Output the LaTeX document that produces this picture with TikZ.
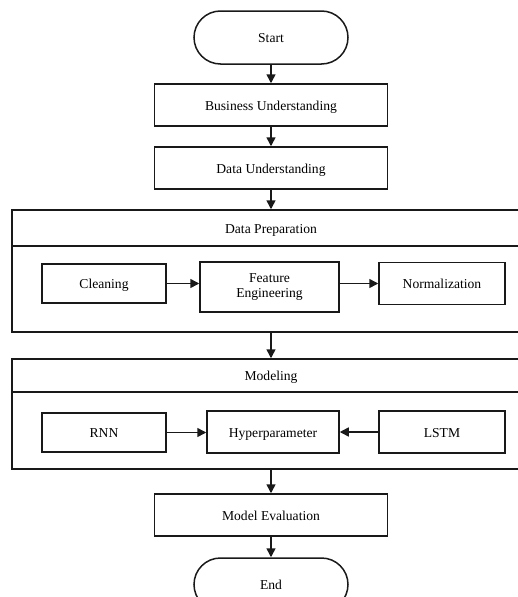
\documentclass[tikz,border=0pt]{standalone}
\usepackage{fontspec}
\setmainfont{Liberation Serif}
\usetikzlibrary{arrows.meta}
\tikzset{
  box/.style={draw=black!90, line width=1.5pt, rectangle, inner sep=0pt, align=center, font=\fontsize{13.6}{15.5}\selectfont},
  one/.style={text height=10pt, text depth=0pt},
  term/.style={box, one, rounded corners=26.5pt, minimum width=154pt, minimum height=53pt},
  wide/.style={box, one, minimum width=233pt, minimum height=42pt},
  outer/.style={box, minimum width=518pt},
  title/.style={inner sep=0pt, one, font=\fontsize{13.6}{15.5}\selectfont},
  arr/.style={line width=1.5pt, draw=black!90, -{Triangle[length=9pt,width=9pt]}}
}
\begin{document}
\begin{tikzpicture}[x=1pt,y=-1pt]
\useasboundingbox (0,0) rectangle (518,597);
\clip (0,0) rectangle (518,597);
\fill[white] (0,0) rectangle (518,597);
% terminals and main column
\node[term] (start) at (271,37.5) {Start};
\node[wide] (bu) at (271,105) {Business Understanding};
\node[wide] (du) at (271,168) {Data Understanding};
% Data Preparation group
\node[outer, minimum height=122pt] (dp) at (271,271) {};
\node[title] (dptitle) at (271,228) {Data Preparation};
\coordinate (dpdivl) at (12,246);
\draw[line width=1.5pt, black!90] (dpdivl) -- (dpdivl -| dp.east);
\node[box, one, minimum width=124pt, minimum height=39pt] (clean) at (104,283.5) {Cleaning};
\node[box, minimum width=139pt, minimum height=50pt] (fe) at (269.5,287) {Feature\\Engineering};
\node[box, one, minimum width=126pt, minimum height=42pt] (norm) at (442,283.5) {Normalization};
% Modeling group
\node[outer, minimum height=110pt] (mod) at (271,414) {};
\node[title] (modtitle) at (271,375.5) {Modeling};
\coordinate (moddivl) at (12,392);
\draw[line width=1.5pt, black!90] (moddivl) -- (moddivl -| mod.east);
\node[box, one, minimum width=124pt, minimum height=39pt] (rnn) at (104,432.5) {RNN};
\node[box, one, minimum width=132pt, minimum height=42pt] (hyp) at (273,432) {Hyperparameter};
\node[box, one, minimum width=126pt, minimum height=42pt] (lstm) at (442,432) {LSTM};
% bottom
\node[wide] (me) at (271,515) {Model Evaluation};
\node[term] (end) at (271,584.5) {End};
% connectors
\draw[arr] (start) -- (bu);
\draw[arr] (bu) -- (du);
\draw[arr] (du) -- (dp);
\draw[arr] (dp) -- (mod);
\draw[arr] (mod) -- (me);
\draw[arr] (me) -- (end);
\draw[arr] (clean.east) -- (clean.east -| fe.west);
\draw[arr] (norm.west -| fe.east) -- (norm.west);
\draw[arr] (rnn.east) -- (rnn.east -| hyp.west);
\draw[arr] (lstm.west) -- (lstm.west -| hyp.east);
\end{tikzpicture}
\end{document}
